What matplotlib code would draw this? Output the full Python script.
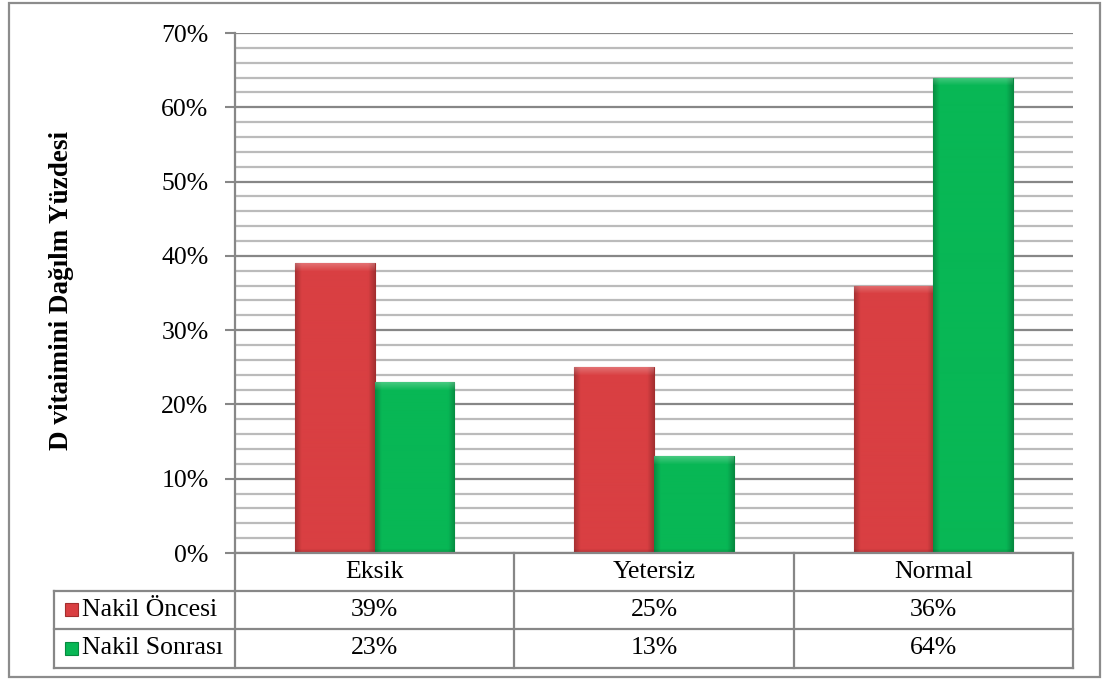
import matplotlib
matplotlib.use("Agg")
import matplotlib.pyplot as plt
from matplotlib.lines import Line2D
from matplotlib.patches import Rectangle
from matplotlib.colors import to_rgb
import numpy as np

categories = ["Eksik", "Yetersiz", "Normal"]
series_names = ["Nakil Öncesi", "Nakil Sonrası"]
oncesi = [39, 25, 36]
sonrasi = [23, 13, 64]
y_label = "D vitaimini Dağılm Yüzdesi"

face_colors = ["#D93F42", "#08B755"]
edge_colors = ["#A32E2E", "#07893F"]

plt.rcParams["font.family"] = ["Liberation Serif", "DejaVu Serif"]
FS = 18.5

W, H = 1102, 680
fig = plt.figure(figsize=(W / 100, H / 100), dpi=100)


def fx(px):
    return px / W


def fy(py):
    return 1 - py / H


ax_l, ax_r, ax_t, ax_b = 235, 1073, 33, 553
ax = fig.add_axes([fx(ax_l), fy(ax_b), fx(ax_r - ax_l), (ax_b - ax_t) / H])

x = np.arange(len(categories))
bw = 80 / 280
ax.set_xlim(-0.5, len(categories) - 0.5)
ax.set_ylim(0, 70)


def shade_bar(patch, color):
    # Excel-like bevel: darker sides, lighter top strip
    x0, y0 = patch.get_x(), patch.get_y()
    w, h = patch.get_width(), patch.get_height()
    nx, ny = 80, max(int(h / 70 * 520), 2)
    base = np.array(to_rgb(color))
    u = np.linspace(0, 1, nx)
    side = np.clip(np.minimum(u, 1 - u) / 0.08, 0, 1)
    fac = 0.78 + 0.22 * side
    img = np.ones((ny, nx, 3)) * base
    img = img * fac[None, :, None]
    top = min(8, ny)
    for r in range(top):
        img[r] = np.clip(img[r] + (1 - img[r]) * 0.25 * (1 - r / top), 0, 1)
    bot = min(4, ny)
    for r in range(bot):
        img[ny - 1 - r] = img[ny - 1 - r] * (0.85 + 0.15 * r / bot)
    im = ax.imshow(img, extent=(x0, x0 + w, y0, y0 + h), aspect="auto",
                   zorder=3.5, interpolation="bilinear")
    im.set_clip_path(patch)


for i, vals in enumerate([oncesi, sonrasi]):
    bars = ax.bar(x + (i - 0.5) * bw, vals, width=bw, color=face_colors[i],
                  edgecolor=edge_colors[i], linewidth=0.8, zorder=3)
    for p in bars:
        shade_bar(p, face_colors[i])

ax.set_xlim(-0.5, len(categories) - 0.5)
ax.set_ylim(0, 70)
ax.set_yticks(np.arange(0, 71, 10))
ax.set_yticklabels([f"{v}%" for v in range(0, 71, 10)], fontsize=FS)
ax.set_yticks(np.arange(0, 71, 2), minor=True)
ax.grid(axis="y", which="minor", color="#BBBBBB", linewidth=1.6, zorder=0)
ax.grid(axis="y", which="major", color="#878787", linewidth=1.6, zorder=0)
ax.tick_params(axis="y", which="major", length=7, width=1.5, color="#878787", pad=12)
ax.tick_params(axis="y", which="minor", length=0)
ax.set_xticks([])
for s in ["top", "right"]:
    ax.spines[s].set_visible(False)
for s in ["left", "bottom"]:
    ax.spines[s].set_color("#878787")
    ax.spines[s].set_linewidth(1.6)
    ax.spines[s].set_zorder(4)

fig.text(fx(62), fy(290), y_label, rotation=90, ha="center", va="center",
         fontsize=19.5, fontweight="bold")

# data table under the axis
grid_c = "#878787"
lw = 1.6
row_tops = [553, 591, 629, 668]
col_edges = [ax_l + (ax_r - ax_l) * k / len(categories) for k in range(len(categories) + 1)]
tbl_left = 54


def hline(y, x0, x1):
    fig.add_artist(Line2D([fx(x0), fx(x1)], [fy(y), fy(y)], color=grid_c, lw=lw))


def vline(x0, y0, y1):
    fig.add_artist(Line2D([fx(x0), fx(x0)], [fy(y0), fy(y1)], color=grid_c, lw=lw))


hline(row_tops[1], tbl_left, ax_r)
hline(row_tops[2], tbl_left, ax_r)
hline(row_tops[3], tbl_left, ax_r)
vline(tbl_left, row_tops[1], row_tops[3])
for cx in col_edges:
    vline(cx, row_tops[0], row_tops[3])

for j, cat in enumerate(categories):
    cx = (col_edges[j] + col_edges[j + 1]) / 2
    fig.text(fx(cx), fy((row_tops[0] + row_tops[1]) / 2), cat,
             ha="center", va="center", fontsize=FS)

for i, (name, vals) in enumerate(zip(series_names, [oncesi, sonrasi])):
    yc = (row_tops[i + 1] + row_tops[i + 2]) / 2
    fig.add_artist(Rectangle((fx(65), fy(yc + 6)), fx(13), 13 / H,
                             facecolor=face_colors[i], edgecolor=edge_colors[i], lw=0.8))
    fig.text(fx(82), fy(yc), name, ha="left", va="center", fontsize=FS)
    for j, v in enumerate(vals):
        cx = (col_edges[j] + col_edges[j + 1]) / 2
        fig.text(fx(cx), fy(yc), f"{v}%", ha="center", va="center", fontsize=FS)

# outer chart border
fig.add_artist(Rectangle((fx(9), fy(677)), fx(1100 - 9), (677 - 3) / H,
                         fill=False, edgecolor="#8C8C8C", lw=1.6))

fig.savefig("out.png", dpi=100)
